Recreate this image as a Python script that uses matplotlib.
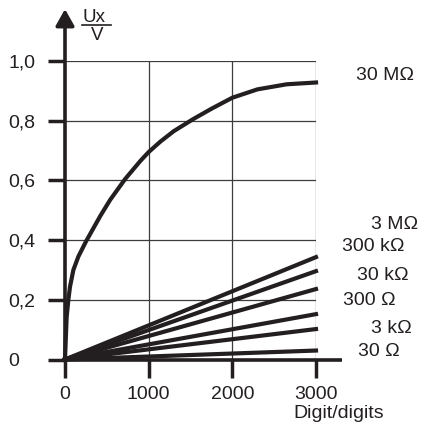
import numpy as np
import matplotlib
matplotlib.use("Agg")
import matplotlib.pyplot as plt

plt.rcParams['font.family'] = ['Liberation Sans', 'DejaVu Sans']

ink = '#231f20'
grid_col = '#3c3c3c'

# 30 MOhm curve
curve_x = [0, 12, 20, 40, 60, 100, 160, 250, 320, 420, 540, 720, 900, 1000,
           1140, 1300, 1530, 1750, 2000, 2300, 2650, 3000]
curve_y = [0, 0.088, 0.143, 0.2, 0.244, 0.30, 0.345, 0.395, 0.43, 0.48, 0.535,
           0.605, 0.665, 0.695, 0.73, 0.765, 0.805, 0.84, 0.877, 0.905, 0.922, 0.928]
curve_label = '30 MΩ'

# straight lines: value at 3000 digits
line_labels = ['3 MΩ', '300 kΩ', '30 kΩ', '300 Ω', '3 kΩ', '30 Ω']
line_end = [0.343, 0.296, 0.236, 0.152, 0.102, 0.03]
# label positions (left x in digits, y in volts)
label_x = [3657, 3311, 3490, 3323, 3657, 3502]
label_y = [0.451, 0.377, 0.283, 0.196, 0.105, 0.028]

xticks = [0, 1000, 2000, 3000]
yticks = [0, 0.2, 0.4, 0.6, 0.8, 1.0]
yticklabels = ['0', '0,2', '0,4', '0,6', '0,8', '1,0']

fs = 14

fig = plt.figure(figsize=(4.24, 4.29), dpi=100)
ax = fig.add_axes([65/424, 69.5/429, 251/424, 298.5/429])
ax.set_xlim(0, 3000)
ax.set_ylim(0, 1)
for s in ax.spines.values():
    s.set_visible(False)

# grid
for v in yticks[1:]:
    ax.plot([0, 3000], [v, v], color=grid_col, lw=0.9, zorder=1)
for v in xticks[1:]:
    ax.plot([v, v], [0, 1], color=grid_col, lw=0.9, zorder=1)

# axes
ax.plot([0, 3310], [0, 0], color=ink, lw=2.6, clip_on=False, zorder=3, solid_capstyle='butt')
ax.annotate('', xy=(0, 1.174), xytext=(0, 0), annotation_clip=False,
            arrowprops=dict(arrowstyle='-|>,head_length=0.5,head_width=0.28',
                            mutation_scale=20, lw=2.6, color=ink,
                            shrinkA=0, shrinkB=0), zorder=3)

ax.set_xticks(xticks)
ax.set_xticklabels([str(t) for t in xticks])
ax.set_yticks(yticks)
ax.set_yticklabels(yticklabels)
ax.tick_params(axis='x', length=13, width=2.5, color=ink, pad=6, labelsize=fs, labelcolor=ink)
ax.tick_params(axis='y', length=12.2, width=2.5, color=ink, pad=28.8, labelsize=fs, labelcolor=ink)
for lab in ax.get_yticklabels():
    lab.set_horizontalalignment('left')

# data
ax.plot(curve_x, curve_y, color=ink, lw=3, zorder=4, clip_on=False, solid_joinstyle='round')
ax.text(3478, 0.95, curve_label, fontsize=fs, color=ink, va='center', ha='left')
for end, lab, lx, ly in zip(line_end, line_labels, label_x, label_y):
    ax.plot([0, 3000], [0, end], color=ink, lw=3, zorder=4, clip_on=False)
    ax.text(lx, ly, lab, fontsize=fs, color=ink, va='center', ha='left')

# axis titles
ax.text(347, 1.147, 'Ux', fontsize=13.5, color=ink, ha='center', va='center')
ax.plot([203, 550], [1.12, 1.12], color=ink, lw=1.2, clip_on=False)
ax.text(382, 1.087, 'V', fontsize=13.5, color=ink, ha='center', va='center')
ax.text(2724, -0.180, 'Digit/digits', fontsize=fs, color=ink, ha='left', va='center')

fig.savefig('out.png', dpi=100)
